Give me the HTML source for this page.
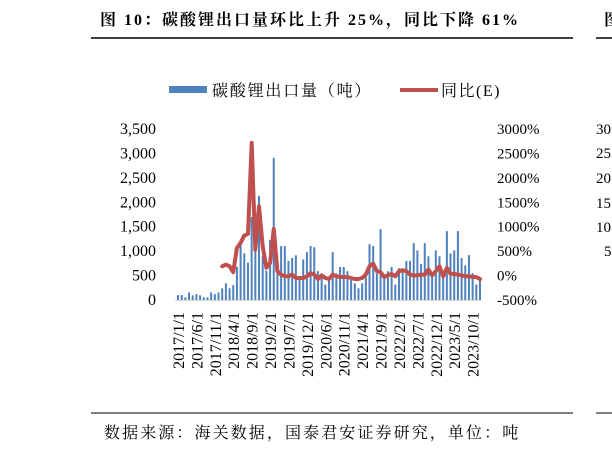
<!DOCTYPE html>
<html><head><meta charset="utf-8"><style>
body{margin:0;background:#fff;}
svg{display:block;font-family:"Liberation Serif","Noto Serif CJK SC",serif;}
</style></head><body>
<svg id="c" width="612" height="453" viewBox="0 0 612 453">
<text x="100" y="25" font-size="16" letter-spacing="2" font-weight="bold">图 10：碳酸锂出口量环比上升 25%，同比下降 61%</text>
<line x1="91" y1="38" x2="573" y2="38" stroke="#000" stroke-width="1.5"/>
<text x="604" y="25" font-size="16" font-weight="bold">图</text>
<line x1="596" y1="38" x2="612" y2="38" stroke="#000" stroke-width="1.5"/>
<g font-size="15">
<text x="596" y="134">30</text><text x="596" y="158">25</text><text x="596" y="183">20</text><text x="596" y="208">15</text><text x="596" y="232">10</text><text x="604" y="256">5</text>
</g>
<g>
<rect x="169" y="86" width="38" height="7" fill="#4f81bd"/>
<text x="212" y="96" font-size="16" letter-spacing="1.8">碳酸锂出口量（吨）</text>
<line x1="400" y1="90" x2="438" y2="90" stroke="#c0504d" stroke-width="4"/>
<text x="441" y="96" font-size="16" letter-spacing="1.5">同比(E)</text>
</g>
<g id="left" font-size="16" text-anchor="end"></g>
<g id="right" font-size="15"></g>
<g id="bars"></g>
<line x1="175" y1="300.5" x2="482" y2="300.5" stroke="#d9d9d9" stroke-width="1"/>
<g id="line"></g>
<g id="xl" font-size="16" text-anchor="end"></g>
<line x1="91" y1="413" x2="573" y2="413" stroke="#000" stroke-width="1"/>
<line x1="596" y1="413" x2="612" y2="413" stroke="#000" stroke-width="1"/>
<text x="104" y="438" font-size="16" letter-spacing="2.1">数据来源：海关数据，国泰君安证券研究，单位：吨</text>
</svg>
<script>
const volumes=[100,100,55,155,95,120,95,55,55,155,120,155,240,340,240,305,680,1125,955,765,1700,1020,2130,900,600,1230,2910,680,1105,1105,800,860,915,480,830,980,1105,1080,590,480,315,480,980,545,675,675,590,410,340,240,340,545,1140,1105,545,1450,480,590,675,315,650,580,800,800,1165,1015,735,1165,895,545,1015,895,545,1410,955,1015,1410,860,710,920,550,315,440];
const yoy=[null,null,null,null,null,null,null,null,null,null,null,null,190,225,190,70,565,670,820,850,2715,530,1420,600,160,260,955,90,20,-15,-15,20,-50,-50,-50,-15,50,20,-70,5,-50,-70,20,-15,-30,-30,-30,-50,-70,-70,-50,20,190,245,90,70,-30,5,35,-15,90,110,90,20,0,5,20,20,125,5,90,190,-15,160,35,35,20,5,-15,-15,-30,-30,-70];
const leftTicks=[0,500,1000,1500,2000,2500,3000,3500];
const rightTicks=[-500,0,500,1000,1500,2000,2500,3000];
const xLabels=["2017/1/1","2017/6/1","2017/11/1","2018/4/1","2018/9/1","2019/2/1","2019/7/1","2019/12/1","2020/6/1","2020/11/1","2021/4/1","2021/9/1","2022/2/1","2022/7/1","2022/12/1","2023/5/1","2023/10/1"];
const labelStep=5;
const NS="http://www.w3.org/2000/svg";
const x0=178,x1=480,yBase=300,yTop=129;
const n=volumes.length;
const xs=i=>x0+(x1-x0)*i/(n-1);
const yl=v=>yBase-(v/3500)*(yBase-yTop);
const yr=p=>yBase-((p+500)/3500)*(yBase-yTop);
function mk(t,a,p){const e=document.createElementNS(NS,t);for(const k in a)e.setAttribute(k,a[k]);p.appendChild(e);return e;}
const L=document.getElementById('left');
leftTicks.forEach(v=>{const t=mk('text',{x:156,y:yl(v)+5},L);t.textContent=v.toLocaleString('en-US');

});
const R=document.getElementById('right');
rightTicks.forEach(v=>{const t=mk('text',{x:497,y:yr(v)+5},R);t.textContent=v+'%';

});
const B=document.getElementById('bars');
volumes.forEach((v,i)=>{const r=mk('rect',{x:xs(i)-1,y:yl(v),width:2,height:yBase-yl(v),fill:'#4f81bd'},B);

});
let d='';yoy.forEach((p,i)=>{if(p===null)return;d+=(d?'L':'M')+xs(i).toFixed(1)+','+yr(p).toFixed(1);});
const pl=mk('path',{d:d,fill:'none',stroke:'#c0504d','stroke-width':4,'stroke-linejoin':'round','stroke-linecap':'round'},document.getElementById('line'));


const X=document.getElementById('xl');
xLabels.forEach((lab,k)=>{const i=k*labelStep;
const t=mk('text',{transform:`translate(${xs(i)+6},312) rotate(-90)`},X);t.textContent=lab;

});
</script>
</body></html>
